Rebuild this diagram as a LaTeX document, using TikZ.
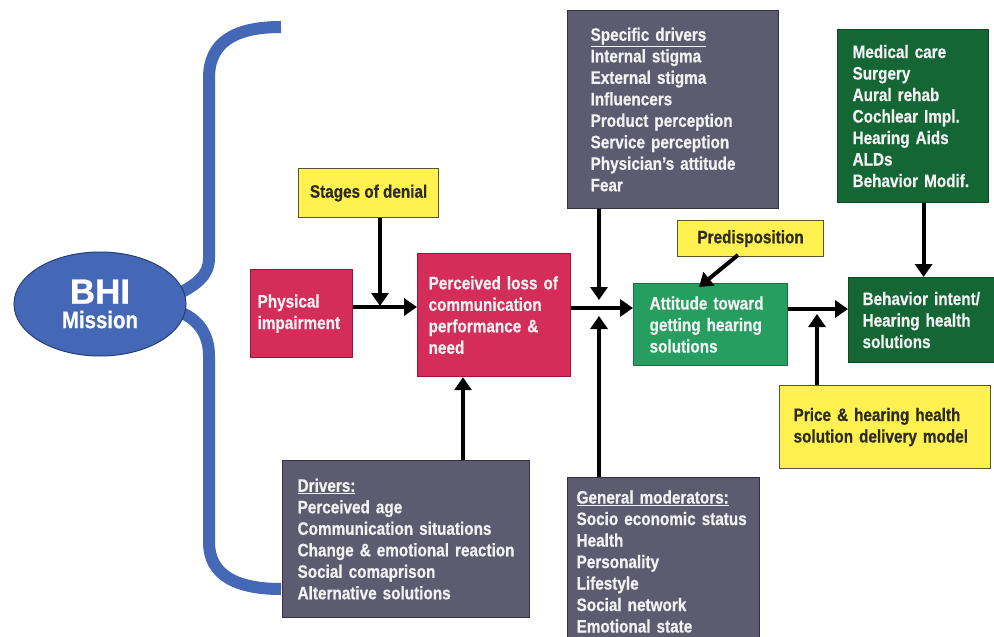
\documentclass[tikz,border=0pt]{standalone}
\usepackage{fontspec}
\setmainfont[FakeStretch=0.85,BoldFeatures={FakeBold=0.6}]{Liberation Sans}
\newfontfamily\bhifont[FakeBold=0.6]{Liberation Sans Bold}
\usetikzlibrary{arrows.meta,shapes.geometric}
\definecolor{bhiblue}{RGB}{68,104,182}
\definecolor{bhiedge}{RGB}{40,62,120}
\definecolor{drvgrey}{RGB}{93,91,112}
\definecolor{drvedge}{RGB}{52,50,64}
\definecolor{lossred}{RGB}{212,45,90}
\definecolor{lossedge}{RGB}{150,25,60}
\definecolor{noteyel}{RGB}{255,242,80}
\definecolor{noteedge}{RGB}{90,85,40}
\definecolor{notetext}{RGB}{45,42,30}
\definecolor{attgreen}{RGB}{38,158,96}
\definecolor{solgreen}{RGB}{20,102,52}
\definecolor{boxtext}{RGB}{242,242,242}

\begin{document}
\begin{tikzpicture}[x=1pt,y=-1pt]
\tikzstyle{every node}+=[font=\bfseries\fontsize{18}{21.5}\selectfont]
\tikzstyle{box}=[draw, line width=1.2pt, anchor=north west, align=left, inner ysep=0pt]
\tikzstyle{greybox}=[box, fill=drvgrey, draw=drvedge, text=boxtext]
\tikzstyle{redbox}=[box, fill=lossred, draw=lossedge, text=boxtext]
\tikzstyle{notebox}=[box, fill=noteyel, draw=noteedge, text=notetext]
\tikzstyle{attbox}=[box, fill=attgreen, draw=attgreen!70!black, text=boxtext]
\tikzstyle{solbox}=[box, fill=solgreen, draw=solgreen!70!black, text=boxtext]
\tikzstyle{arr}=[black, line width=4pt, -{Triangle[length=13pt,width=17pt]}]
\tikzstyle{brace}=[bhiblue, line width=12pt]
\useasboundingbox (0,0) rectangle (994,637);
\clip (0,0) rectangle (994,637);

\draw [brace] (281,27) .. controls (235,27) and (209,42) .. (209,78) -- (209,258)
  .. controls (209,276) and (196,284) .. (182,292);
\draw [brace] (182,313) .. controls (198,320) and (209,334) .. (209,356) -- (209,542)
  .. controls (209,575) and (236,589) .. (281,589);
\node (bhi) [ellipse, fill=bhiblue, draw=bhiedge, line width=1pt, minimum width=172,
  minimum height=104, text=white, align=center, inner sep=0pt] at (100,304)
  {{\bhifont\fontsize{35}{36}\selectfont BHI}\\[3pt]{\fontsize{24}{25}\selectfont Mission}};

\node (denial) [notebox, align=center, minimum width=140, minimum height=49] at (298,168)
  {Stages of denial};
\node (physical) [redbox, inner xsep=7, text width=88, minimum height=88] at (250,269)
  {Physical\\impairment};
\node (loss) [redbox, inner xsep=11, text width=131, minimum height=123] at (417,253)
  {\mbox{Perceived loss of}\\communication\\performance \&\\need};
\node (specific) [greybox, inner xsep=23, text width=165, minimum height=198] at (567,10)
  {\underline{Specific drivers}\\Internal stigma\\External stigma\\Influencers\\Product perception\\Service perception\\Physician's attitude\\Fear};
\node (predisp) [notebox, align=center, minimum width=146, minimum height=36] at (677,220)
  {Predisposition};
\node (attitude) [attbox, inner xsep=16, text width=122, minimum height=82] at (633,283)
  {Attitude toward\\getting hearing\\solutions};
\node (medical) [solbox, inner xsep=15, text width=121, minimum height=173] at (837,29)
  {Medical care\\Surgery\\Aural rehab\\Cochlear Impl.\\Hearing Aids\\ALDs\\Behavior Modif.};
\node (intent) [solbox, inner xsep=14, text width=122, minimum height=85] at (848,277)
  {Behavior intent/\\Hearing health\\solutions};
\node (price) [notebox, inner xsep=14, text width=183, minimum height=83] at (779,385)
  {Price \& hearing health\\solution delivery model};
\node (drivers) [greybox, inner xsep=15, text width=217, minimum height=157] at (282,460)
  {\underline{Drivers:}\\Perceived age\\Communication situations\\Change \& emotional reaction\\Social comaprison\\Alternative solutions};
\node (general) [greybox, inner xsep=9, text width=174, minimum height=168] at (567,477)
  {\underline{General moderators:}\\Socio economic status\\Health\\Personality\\Lifestyle\\Social network\\Emotional state};

\coordinate (denialtip) at (380,306);
\coordinate (dropin) at (599,300);
\coordinate (liftin) at (599,316);
\coordinate (pricetip) at (817,314);
\coordinate (drivers up) at (463,460);
\coordinate (predisp out) at (738,255);
\coordinate (predisp tip) at (699,287);

\draw [arr] (physical.east |- 0,307) -- (loss.west |- 0,307);
\draw [arr] (denialtip |- denial.south) -- (denialtip);
\draw [arr] (loss.east |- 0,308) -- (attitude.west |- 0,308);
\draw [arr] (dropin |- specific.south) -- (dropin);
\draw [arr] (liftin |- general.north) -- (liftin);
\draw [arr] (drivers up) -- (drivers up |- loss.south);
\draw [arr] (predisp out) -- (predisp tip);
\draw [arr] (attitude.east |- 0,309) -- (intent.west |- 0,309);
\draw [arr] (pricetip |- price.north) -- (pricetip);
\draw [arr] (intent.north |- medical.south) -- (intent.north);
\end{tikzpicture}
\end{document}
